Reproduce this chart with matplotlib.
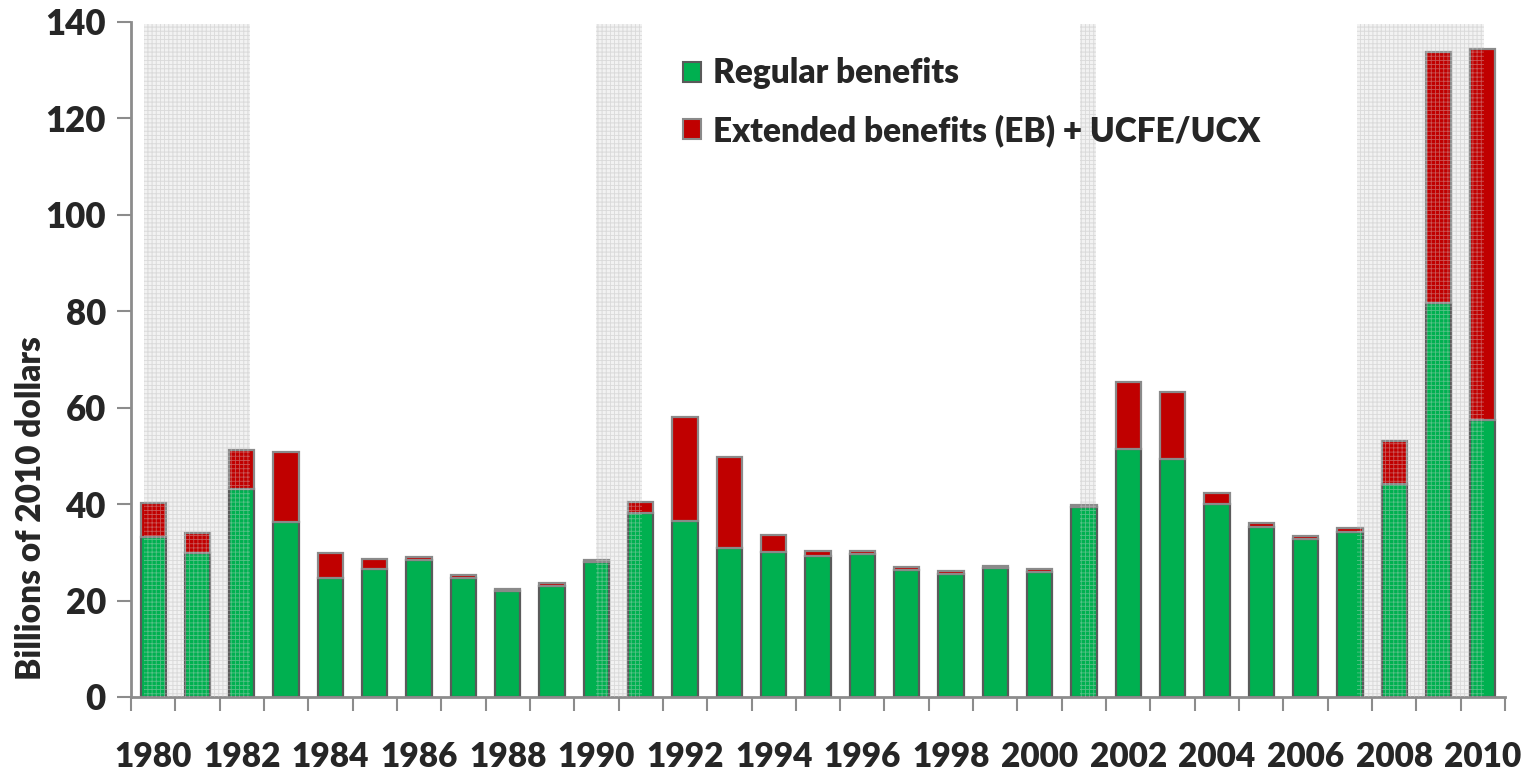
import numpy as np
import matplotlib
matplotlib.use("Agg")
import matplotlib.pyplot as plt
from matplotlib.patches import Patch

plt.rcParams['font.family'] = ['Lato', 'DejaVu Sans']
plt.rcParams['font.weight'] = 'bold'
plt.rcParams['hatch.linewidth'] = 0.6

years = list(range(1980, 2011))
regular = [33.2, 29.9, 43.2, 36.2, 24.7, 26.6, 28.4, 24.7, 21.9, 23.1,
           27.9, 38.1, 36.6, 30.8, 30.1, 29.3, 29.6, 26.3, 25.6, 26.8,
           26.0, 39.3, 51.4, 49.4, 40.0, 35.2, 32.7, 34.3, 44.2, 81.8,
           57.5]
total = [40.2, 34.1, 51.2, 50.8, 29.9, 28.6, 29.1, 25.3, 22.4, 23.7,
         28.5, 40.4, 58.1, 49.7, 33.5, 30.2, 30.3, 26.9, 26.2, 27.2,
         26.6, 39.8, 65.3, 63.3, 42.4, 36.0, 33.3, 35.0, 53.1, 133.8,
         134.3]
extended = [t - r for t, r in zip(total, regular)]
# recession spans in bar-index units
recessions = [(-0.21, 2.19), (10.0, 11.03), (20.9, 21.28), (27.17, 30.02)]

green = '#00B050'
red = '#C00000'
txt = '#262626'
wt = 'heavy'

fig = plt.figure(figsize=(15.25, 7.71), dpi=100)
ax = fig.add_axes([0.0859, 0.096, 0.901, 0.8755])

x = np.arange(len(years))
ax.bar(x, regular, width=0.57, color=green, edgecolor='#5a5a5a', linewidth=1.6, zorder=2)
ax.bar(x, extended, bottom=regular, width=0.57, color=red, edgecolor='#8a8a8a',
       linewidth=1.6, zorder=2)

for a, b in recessions:
    ax.axvspan(a, b, ymin=0, ymax=139.5 / 140, facecolor='#f2f2f2', edgecolor='#dcdcdc',
               hatch='++++', linewidth=0, zorder=0)
    ax.axvspan(a, b, ymin=0, ymax=139.5 / 140, facecolor='none',
               edgecolor=(0.85, 0.85, 0.85, 0.4), hatch='++++', linewidth=0, zorder=3)

ax.set_xlim(-0.5, len(years) - 0.5)
ax.set_ylim(0, 140)
ax.set_yticks(range(0, 141, 20))
ax.tick_params(axis='y', length=10, width=1.5, color='#8c8c8c', labelsize=25, pad=8)

even = [i for i, y in enumerate(years) if y % 2 == 0]
ax.set_xticks(even)
ax.set_xticklabels([str(years[i]) for i in even])
ax.set_xticks(np.arange(-0.5, len(years)), minor=True)
ax.tick_params(axis='x', which='major', length=0, labelsize=24, pad=32)
ax.tick_params(axis='x', which='minor', length=10, width=1.5, color='#8c8c8c')

for s in ['top', 'right']:
    ax.spines[s].set_visible(False)
for s in ['left', 'bottom']:
    ax.spines[s].set_color('#8c8c8c')
    ax.spines[s].set_linewidth(2)

for lab in ax.get_xticklabels() + ax.get_yticklabels():
    lab.set_fontweight(wt)
    lab.set_color(txt)

ax.set_ylabel('Billions of 2010 dollars', fontsize=24, fontweight=wt, color=txt)
ax.yaxis.set_label_coords(-0.061, 0.28)

handles = [Patch(facecolor=green, edgecolor='#5a5a5a', linewidth=1.5),
           Patch(facecolor=red, edgecolor='#8a8a8a', linewidth=1.5)]
leg = ax.legend(handles, ['Regular benefits', 'Extended benefits (EB) + UCFE/UCX'],
                loc='upper left', bbox_to_anchor=(0.38, 0.992), frameon=False,
                fontsize=24, handlelength=0.55, handleheight=0.55, handletextpad=0.35,
                labelspacing=0.75)
for t in leg.get_texts():
    t.set_fontweight(wt)
    t.set_color(txt)

fig.savefig('out.png', dpi=100)
